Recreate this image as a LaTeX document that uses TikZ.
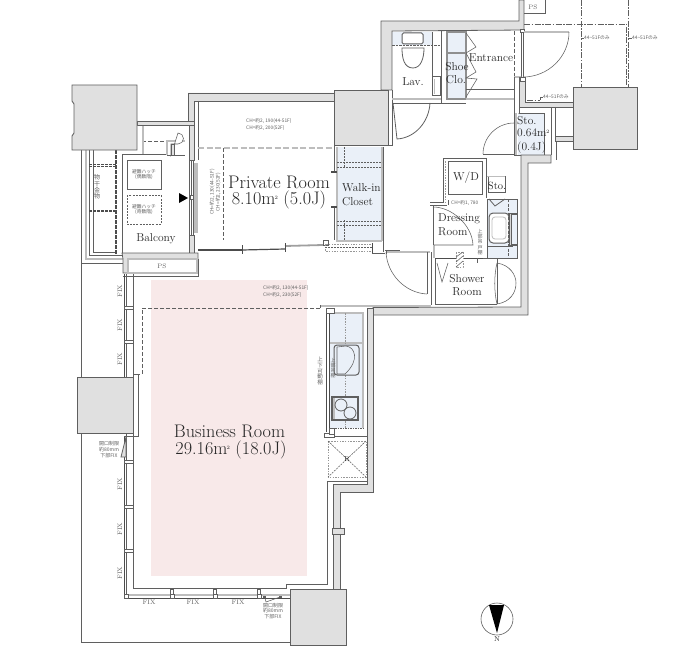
\documentclass[tikz,border=0pt]{standalone}
\usepackage{fontspec}
\newfontfamily\jp{Noto Sans CJK JP}
\newcommand{\sqm}{m\kern-0.05em\raisebox{0.62ex}{\fontsize{5}{5}\selectfont 2}}
\definecolor{wallc}{HTML}{E0E0E0}
\definecolor{linec}{HTML}{5F5F5F}
\definecolor{stripc}{HTML}{BDBDBD}
\definecolor{bluec}{HTML}{EAF0F8}
\definecolor{pinkc}{HTML}{F8E9E9}
\definecolor{tinyc}{HTML}{606060}
\tikzset{
  x=1pt,y=-1pt,
  ln/.style={draw=linec,line width=0.8pt},
  thin line/.style={draw=linec,line width=0.55pt},
  dk/.style={draw=linec!80!black,line width=1.5pt},
  strip/.style={draw=stripc,line width=2.4pt},
  wall/.style={fill=wallc,draw=linec,line width=0.8pt},
  pillar/.style={fill=wallc,draw=linec,line width=0.9pt},
  bluebox/.style={fill=bluec,draw=none},
  dashln/.style={draw=linec,line width=0.7pt,dash pattern=on 4pt off 2pt},
  dashdot/.style={draw=linec,line width=0.6pt,dash pattern=on 6pt off 1.5pt on 1.5pt off 1.5pt},
  dashgray/.style={draw=stripc,line width=1.1pt,dash pattern=on 6pt off 2.5pt},
  dotgray/.style={draw=stripc!80!black,line width=1pt,dash pattern=on 1.5pt off 1.2pt},
  lab/.style={inner sep=0pt,align=center,text=black!85},
  biglab/.style={lab,font=\fontsize{18.2}{20}\selectfont},
  midlab/.style={lab,font=\fontsize{11.5}{13}\selectfont},
  tiny/.style={inner sep=0pt,align=left,text=tinyc,font=\jp\fontsize{4.8}{7}\selectfont},
  tinyc/.style={inner sep=0pt,align=center,text=tinyc,font=\jp\fontsize{4.8}{5.6}\selectfont},
  fix/.style={inner sep=0pt,text=tinyc,font=\fontsize{6.5}{7}\selectfont},
}
\begin{document}
\begin{tikzpicture}
\useasboundingbox (0,0) rectangle (700,650);
% pink floor
\fill[pinkc] (151,280) rectangle (307,576);
% blue areas
\fill[bluec] (392,32) rectangle (432,45);
\fill[bluec] (447,32) rectangle (466,99);
\fill[bluec] (518,113) rectangle (544,155);
\fill[bluec] (337,147) rectangle (382,240);
\fill[bluec] (487,199) rectangle (517,258);
\fill[bluec] (330,313) rectangle (363,428);
% balcony outline
\draw[ln] (81,150) -- (81,377);
\draw[strip,line width=1.4pt] (86,150) -- (86,259) -- (123,259);
\draw[ln] (89,150) -- (89,255) -- (122,255);
\draw[ln] (93,150) -- (93,252) -- (116,252);
\draw[ln] (81,263) -- (123,263);
\draw[dk,dash pattern=on 4pt off 1pt,line width=1.1pt] (116,150) -- (116,255);
\draw[dk,dash pattern=on 3pt off 1pt,line width=0.8pt] (89,164) -- (117,164);
\draw[dk,dash pattern=on 3pt off 1pt,line width=0.6pt] (89,166) -- (117,166);
\draw[dk,dash pattern=on 3pt off 1pt,line width=1.1pt] (89,211) -- (117,211);
\draw[ln] (81,377) -- (81,642) -- (290,642);
% balcony interior
\draw[ln] (167,154) -- (122,154) -- (122,255);
\draw[dashln] (142,141) -- (167,141);
\draw[strip,line width=1.2pt] (143,125) -- (143,154);
\draw[ln,line width=1pt] (127,160) rectangle (161,189);
\draw[dashln,dash pattern=on 2pt off 1.2pt] (127,195) rectangle (161,224);
% outdoor unit
\draw[strip,line width=1.6pt] (167,155) -- (167,141) -- (185,141);
\draw[thin line,fill=white] (171,144) -- (178,144) arc (90:-90:5.5) -- (171,155) -- cycle;
\draw[ln,fill=wallc] (171,144) rectangle (174,155);
\draw[thin line] (167,155) -- (185,155);
% top private wall
\draw[wall] (188,121) -- (188,93) -- (334,93) -- (334,101) -- (194,101) -- (194,121) -- cycle;
\draw[ln] (198,101) -- (198,160);
\draw[ln] (194,101) -- (198,101);
\draw[wall] (137,121) rectangle (194,125);
\draw[wall] (189,125) rectangle (194,160);
% balcony window
\draw[strip,line width=4pt] (196,163) -- (196,233);
\draw[ln,fill=white] (189,160) rectangle (193,235);
\draw[ln] (191,160) -- (191,235);
\draw[ln,fill=white] (190.5,195.5) rectangle (193.5,199);
\draw[wall] (189,235) rectangle (194,253);
\draw[wall] (122,253) -- (198,253) -- (198,259) -- (128,259) -- (128,273) -- (123,273) -- (123,259) -- cycle;
\fill[black] (179,193) -- (188,198) -- (179,203) -- cycle;
% PS box
\draw[ln] (123,276) -- (198,276) -- (198,259);
\draw[strip,line width=1.4pt] (128,259) -- (197,259) -- (197,273) -- (128,273) -- cycle;
% private room lines
\draw[dashgray] (198,148) -- (333,148);
\draw[dashln] (223,148) -- (223,240);
\draw[dk] (198,250) -- (242,250);
\draw[dk,line width=1.2pt] (242,250) -- (285,249);
\draw[strip,draw=linec!60,line width=1.8pt] (285,246) -- (323,245);
\draw[dk,line width=0.9pt] (242,245) -- (242,254);
\draw[dk,line width=0.9pt] (285,243) -- (285,252);
\draw[ln,fill=white] (323,240) rectangle (328,245);
\draw[dotgray] (325,244) rectangle (372,251);
\draw[thin line,dash pattern=on 2pt off 1pt] (325,247.5) -- (372,247.5);
\draw[dk,line width=1pt] (372,243) -- (372,254);
\draw[ln] (372,253) -- (385,253);
\draw[ln] (385,250) -- (400,250);
% walk-in closet
\draw[strip,line width=1.6pt] (337,147) -- (337,172);
\draw[strip,line width=2pt] (337,172) -- (337,241) -- (382,241);
\draw[strip,line width=1.4pt] (382,147) -- (382,241);
\draw[ln] (334,145) -- (334,172);
\draw[ln] (334,207) -- (334,240);
\draw[dk,line width=1.3pt] (331,172) -- (337,172);
\draw[dk,line width=1.3pt] (331,207) -- (337,207);
\draw[thin line,dash pattern=on 2pt off 1pt] (337,162) -- (382,162);
\draw[thin line,dash pattern=on 2pt off 1pt] (337,167) -- (382,167);
\draw[thin line,dash pattern=on 2pt off 1pt] (337,221) -- (382,221);
\draw[thin line,dash pattern=on 2pt off 1pt] (337,225) -- (382,225);
\draw[thin line,dash pattern=on 2pt off 1pt] (344,147) -- (344,168);
\draw[thin line,dash pattern=on 2pt off 1pt] (344,220) -- (344,240);
% envelope wall: lav and entrance
\draw[wall] (381,90) -- (381,21) -- (519,21) -- (519,0) -- (524,0) -- (524,30) -- (392,31) -- (392,90) -- cycle;
\draw[ln] (392,90) -- (392,145) -- (388,145);
% lav
\draw[ln] (392,103) -- (466,103);
\draw[strip,line width=1.6pt] (392,99) -- (441,99);
\draw[ln] (441,31) -- (441,103);
\draw[ln] (432,32) -- (432,77);
\draw[dashln,dash pattern=on 2.5pt off 1pt] (392,45) -- (441,45);
\draw[ln,fill=white] (413,68) .. controls (404,68) and (402,58) .. (402,48) -- (424,48) .. controls (424,58) and (421,68) .. (413,68) -- cycle;
\draw[ln,fill=white,rounded corners=1.5pt,line width=1pt] (402,33) rectangle (423,44);
\draw[ln,fill=white,line width=1pt] (432,77) rectangle (440,96);
\draw[strip,line width=1.2pt] (434.5,79) -- (434.5,94);
\draw[ln] (393,103) -- (397,139) .. controls (415,138) and (429,122) .. (430,103);
% shoe closet
\draw[strip,draw=linec!70,line width=1.5pt] (447,32) rectangle (466,99);
\draw[strip,draw=linec!70,line width=1.5pt] (447,53) -- (466,53);
\draw[thin line] (466,33) -- (476,47) -- (466,53) -- (476,72) -- (466,78) -- (477,79) -- (466,97);
\draw[ln] (466,89) -- (514,89);
\draw[strip] (466,99) -- (514,99);
\draw[dashln] (514,31) -- (514,77);
\draw[strip] (514,77) -- (521,77);
\draw[ln] (514,77) -- (514,155);
% entrance door
\draw[ln] (521,31) -- (521,77);
\draw[ln] (523,31) -- (523,77);
\draw[ln,fill=white] (520,29) rectangle (524,32);
\draw[strip] (524,32) -- (569,32);
\draw[thin line] (569,32) .. controls (569,57) and (548,77) .. (523,77);
\draw[wall] (519,77) -- (525,77) -- (525,102) -- (573,102) -- (573,107) -- (519,107) -- cycle;
\draw[ln,fill=white] (520,77) rectangle (525,81);
% dash-dot limits
\draw[dashdot] (524,24) -- (626,24) -- (626,87);
\draw[dashdot] (581,0) -- (581,87);
\draw[dashdot] (628,0) -- (628,87);
\draw[dashdot] (527,100) -- (540,100);
\draw[thin line] (540,100) -- (540,97) -- (543,97);
\draw[thin line] (581,38) -- (584,38);
\draw[thin line] (628,38) -- (632,38);
% PS top
\draw[ln] (524,13) -- (545,13) -- (545,0);
% sto
\draw[strip] (516,113) -- (516,155);
\draw[strip,line width=1pt] (518,113) -- (544,113);
\draw[ln] (519,107) -- (519,113) -- (544,113) -- (544,157);
\draw[ln] (551,107) -- (551,155);
\draw[ln] (514,155) -- (551,155);
\draw[ln] (483,154) -- (514,154);
\draw[thin line] (483,154) .. controls (483,137) and (497,123) .. (514,123);
\draw[ln,fill=white] (555,107) rectangle (573,136);
\draw[wall] (555,136) rectangle (573,141);
\draw[ln] (556,141) -- (556,160);
% right pillar
\draw[pillar] (573,87) rectangle (637,149);
\draw[pillar] (334,90) rectangle (388,145);
% wall right of dressing
\draw[wall] (551,155) -- (521,155) -- (521,307) -- (373,307.5) -- (373,315) -- (528,315) -- (528,163) -- (551,163) -- cycle;
% kitchen wall
\draw[wall] (367,308) -- (373,308) -- (373,492) -- (340,492) -- (340,600) -- (333,600) -- (333,484) -- (367,484) -- cycle;
\draw[fill=wallc,draw=none] (370,309) rectangle (372.5,315);
\draw[strip] (320,306) -- (431,306);
% w/d
\draw[ln] (430,202) -- (443,202) -- (443,158) -- (486,158) -- (486,198);
\draw[ln] (430,205) -- (447,205);
\draw[ln] (448,161) rectangle (482,194);
\draw[dotgray] (445.5,161) -- (445.5,202);
\draw[ln] (448,200) -- (448,205);
% dressing
\draw[ln] (433,205) -- (433,245);
\draw[strip] (434,245) -- (434,258);
\draw[thin line] (433,207) .. controls (452,207) and (472,225) .. (473,245) -- (434,245);
\draw[ln,line width=1pt] (488,176) rectangle (505,192);
\draw[strip,line width=1pt] (487,176) -- (505,176);
\draw[thin line] (487,199) rectangle (517,258);
\draw[ln] (489,199) -- (495,206) -- (505,199);
\draw[ln,fill=white,rounded corners=4pt,line width=1pt] (489,213) rectangle (509,243);
\draw[stripc,rounded corners=3pt,line width=0.8pt] (492,217) rectangle (506,239);
\draw[ln,fill=stripc!60] (509,213) rectangle (517,245);
\draw[ln,fill=bluec] (511,214) rectangle (517,244);
\draw[thin line] (487,246) -- (513,246);
\draw[dashln,dash pattern=on 3pt off 1.5pt] (508,199) -- (508,258);
% shower
\draw[ln] (497,258) -- (435,258) -- (435,304) -- (497,304);
\draw[dk,line width=1pt] (435,258) -- (483,258);
\draw[thin line] (497,258) -- (497,304);
\draw[thin line] (497,263) .. controls (510,265) and (516,275) .. (516,283) .. controls (516,293) and (510,302) .. (497,304);
\draw[thin line] (497,263) .. controls (494,275) and (494,292) .. (497,304);
\draw[thin line] (437,263) -- (442,282) -- (448,263);
\draw[dotgray,line width=1pt,fill=white] (456,252) rectangle (463,267);
\draw[thin line] (456,257) -- (463,252);
\draw[thin line] (456,262) -- (463,256);
\draw[thin line] (456,267) -- (463,261);
\draw[ln] (477,258) -- (477,263);
% hall door
\draw[strip,line width=1.6pt] (386,252) -- (430,252);
\draw[ln] (386,250) -- (386,254);
\draw[ln] (431,252) -- (431,305);
\draw[ln] (427,252) -- (427,294);
\draw[thin line] (386,252) .. controls (387,274) and (405,293) .. (427,294);
\draw[ln] (383,147) -- (383,252);
% kitchen
\draw[strip,line width=1.8pt] (330,313) -- (363,313) -- (363,428);
\draw[strip,line width=1.4pt] (330,343) -- (363,343);
\draw[dotgray] (345,313) -- (345,428);
\draw[dk,line width=1pt] (326,309) -- (326,432);
\draw[dk,line width=1pt] (329,309) -- (329,432);
\draw[ln,fill=white] (326,308) rectangle (334,313);
\draw[ln,fill=white] (324,433) rectangle (334,437);
\draw[ln,fill=white] (329,428) rectangle (334,434);
\draw[ln] (320,305) -- (320,308);
\draw[ln] (334,436) -- (367,436);
\draw[dashln,dash pattern=on 1.5pt off 1pt] (330,428) -- (363,428);
\draw[ln,fill=bluec,rounded corners=3pt,line width=1pt] (334,345) rectangle (359,375);
\draw[thin line] (337,347) -- (346,346) .. controls (355,347) and (360,360) .. (345,374) -- (337,374) -- cycle;
\draw[ln,line width=1.4pt,fill=bluec] (332,397) rectangle (358,420);
\fill[stripc] (333,398) rectangle (335,419);
\draw[ln,fill=bluec] (341,405) circle[radius=6];
\draw[ln,fill=bluec] (350,413) circle[radius=6];
\draw[dotgray] (328,441) rectangle (366,477);
\draw[thin line,dash pattern=on 2pt off 1pt] (328,441) -- (366,477);
\draw[thin line,dash pattern=on 2pt off 1pt] (366,441) -- (328,477);
% business room walls
\draw[ln] (367,481) -- (327,481) -- (327,584) -- (286,584) -- (286,589);
\draw[dashln] (320,308) -- (142,308) -- (142,374) -- (133,374);
\draw[ln] (133,274) -- (133,377);
\draw[ln] (133,374) -- (138,374) -- (138,436) -- (124,436);
\draw[ln] (133,433) -- (133,588) -- (286,588);
% windows
\draw[dk,line width=1pt] (124,274) -- (124,377);
\draw[thin line] (126.5,274) -- (126.5,377);
\draw[thin line] (126.5,433) -- (126.5,598);
\draw[dk,line width=1pt] (124,462) -- (124,598) -- (290,598);
\draw[dk,line width=0.9pt] (124,437) -- (124,460);
\draw[strip,line width=1.8pt] (128,595) -- (290,595);
\foreach \yy in {308,342,462,507,551}{\draw[ln,fill=white] (124,\yy-1.5) rectangle (133,\yy+1.5);}
\foreach \xx in {172,215,259}{\draw[ln,fill=white] (\xx-1.5,589) rectangle (\xx+1.5,594);\draw[ln,fill=white] (\xx-2,594) rectangle (\xx+2,598);}
\draw[ln,fill=white] (124,594) rectangle (128,598);
\draw[ln,fill=wallc] (121,457) -- (126,457) -- (126,437) -- cycle;
\draw[thin line] (265,598) -- (266,602) -- (280,597);
\fill[linec] (263,596) rectangle (266,598);
\fill[linec] (279,596) rectangle (282,598);
% pillars
\draw[pillar] (72,85) -- (137,85) -- (137,150) -- (72,150) -- (72,136) -- (74,133) -- (74,104) -- (72,101) -- cycle;
\draw[pillar] (77,377) rectangle (133,433);
\draw[wall] (332,528) rectangle (344,534);
\draw[pillar] (290,589) rectangle (346,645);
% north mark
\draw[draw=linec,line width=0.6pt] (497,619) circle[radius=16];
\fill[black] (489,605) -- (504,605) -- (497,633) -- cycle;
% labels
\node[biglab] (privatea) at (279,182) {Private Room};
\node[biglab] (privateb) at (279,200) {8.10\sqm\ (5.0J)};
\node[biglab] (busa) at (229.5,431) {Business Room};
\node[biglab] (busb) at (231,450) {29.16\sqm\ (18.0J)};
\node[midlab] (balc) at (156,239) {Balcony};
\node[midlab,align=left,anchor=west] (wica) at (342,188) {Walk-in};
\node[midlab,align=left,anchor=west] (wicb) at (342,201.5) {Closet};
\node[midlab] (lav) at (413,82) {Lav.};
\node[midlab] (ent) at (491,58) {Entrance};
\node[midlab] (shoea) at (457,67) {Shoe};
\node[midlab] (shoeb) at (456,80) {Clo.};
\node[midlab,anchor=west] (stoa) at (517,121) {Sto.};
\node[midlab,anchor=west] (stob) at (517,133) {0.64\sqm};
\node[midlab,anchor=west] (stoc) at (517,148) {(0.4J)};
\node[midlab] (wd) at (466,178) {W/D};
\node[midlab,font=\fontsize{10.5}{12}\selectfont] (stod) at (497,186) {Sto.};
\node[midlab,anchor=west] (dra) at (438,219) {Dressing};
\node[midlab,anchor=west] (drb) at (438,232) {Room};
\node[midlab] (swa) at (467,279) {Shower};
\node[midlab] (swb) at (467,292) {Room};
\node[lab,font=\fontsize{7}{8}\selectfont] (rr) at (347,459) {R};
\node[lab,font=\fontsize{7}{8}\selectfont] (north) at (497,639) {N};
\node[fix] (ps1) at (162,266) {PS};
\node[fix] (ps2) at (533,7) {PS};
\node[tiny,anchor=west] (cha) at (246,121) {CH=約2, 190(44-51F)};
\node[tiny,anchor=west] (chb) at (246,128) {CH=約2, 200(52F)};
\node[tiny,rotate=90] (chc) at (212,192) {CH=約2, 130(44-51F)};
\node[tiny,rotate=90] (chd) at (218,192) {CH=約2, 230(52F)};
\node[tiny,anchor=west] (che) at (263,288) {CH=約2, 130(44-51F)};
\node[tiny,anchor=west] (chf) at (263,295) {CH=約2, 230(52F)};
\node[tiny,anchor=west] (chg) at (451,203) {CH=約1, 780};
\node[tiny,anchor=west] (lima) at (584,38) {44\textasciitilde 51Fのみ};
\node[tiny,anchor=west] (limb) at (632,38) {44\textasciitilde 51Fのみ};
\node[tiny,anchor=west] (limc) at (543,97) {44\textasciitilde 51Fのみ};
\node[tinyc] (hata) at (144,174.5) {避難ハッチ\\(偶数階)};
\node[tinyc] (hatb) at (144,209.5) {避難ハッチ\\(奇数階)};
\node[tinyc,font=\jp\fontsize{6}{6.4}\selectfont] (dry) at (97,187) {物\\干\\金\\物};
\node[tinyc,font=\jp\fontsize{5.5}{5.9}\selectfont] (ksa) at (320,371) {上\\下\\可\\動\\棚};
\node[tinyc,font=\jp\fontsize{5}{5.2}\selectfont] (ksb) at (333,368) {上\\部\\吊\\棚};
\node[tinyc,font=\jp\fontsize{5}{5.4}\selectfont] (dsa) at (480,242) {上\\部\\吊\\戸\\棚};
\node[tinyc,font=\jp\fontsize{5}{5.7}\selectfont] (opa) at (109,449.5) {開口制限\\約80mm\\下部FIX};
\node[tinyc,font=\jp\fontsize{5}{5.7}\selectfont] (opb) at (273,611) {開口制限\\約80mm\\下部FIX};
\node[fix,rotate=90] (f1) at (120,291) {FIX};
\node[fix,rotate=90] (f2) at (120,325) {FIX};
\node[fix,rotate=90] (f3) at (120,359) {FIX};
\node[fix,rotate=90] (f4) at (120,484) {FIX};
\node[fix,rotate=90] (f5) at (120,529) {FIX};
\node[fix,rotate=90] (f6) at (120,573) {FIX};
\node[fix] (f7) at (149,602) {FIX};
\node[fix] (f8) at (193,602) {FIX};
\node[fix] (f9) at (238,602) {FIX};
\end{tikzpicture}
\end{document}
